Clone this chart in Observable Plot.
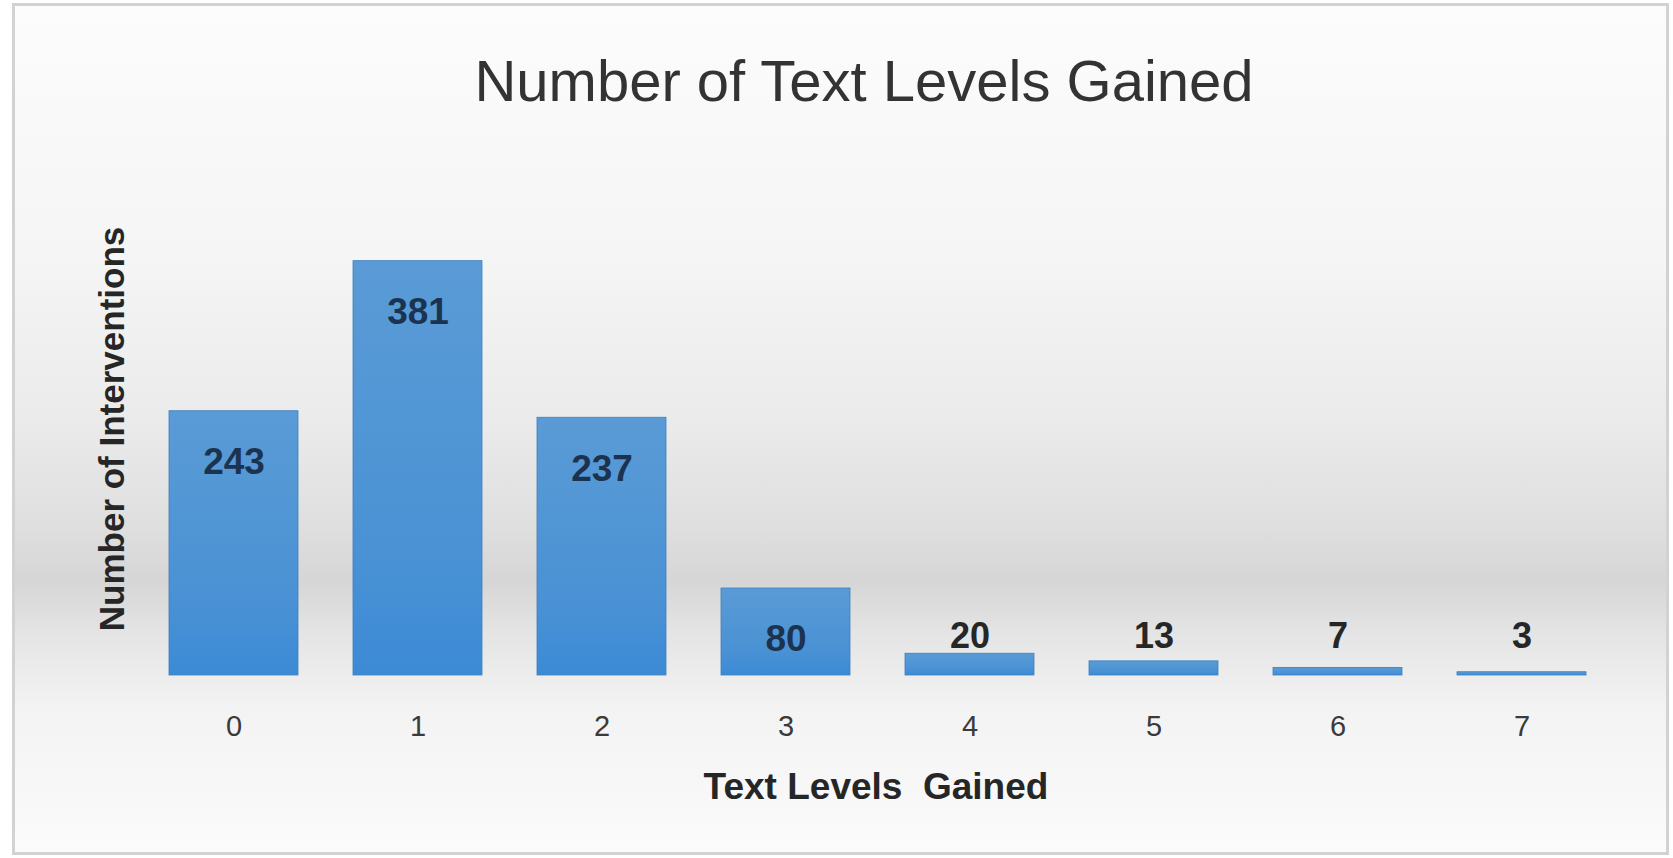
<!DOCTYPE html>
<html>
<head>
<meta charset="utf-8">
<script src="https://cdn.jsdelivr.net/npm/d3@7"></script>
<script src="https://cdn.jsdelivr.net/npm/@observablehq/plot@0.6"></script>
<style>
  html, body { margin: 0; padding: 0; background: #ffffff; }
  body { width: 1673px; height: 858px; position: relative; overflow: hidden; font-family: "Liberation Sans", Arial, sans-serif; }
  #frame {
    position: absolute; left: 12px; top: 3px; width: 1651px; height: 846px;
    border: 3px solid #d2d2d2;
    background: linear-gradient(to bottom, #fcfcfc 0%, #f5f5f5 30%, #eaeaea 50%, #dedede 62%, #d6d6d6 68%, #e4e4e4 74%, #f3f3f3 83%, #fbfbfb 100%);
  }
  #title {
    position: absolute; left: 864px; top: 81px; transform: translate(-50%, -50%);
    white-space: nowrap; font-size: 58px; color: #333333; line-height: 70px;
  }
  #ylabel {
    position: absolute; left: 112px; top: 429px; transform: translate(-50%, -50%) rotate(-90deg);
    white-space: nowrap; font-weight: bold; font-size: 35px; color: #262626;
  }
  #xlabel {
    position: absolute; left: 876px; top: 787px; transform: translate(-50%, -50%);
    white-space: pre; font-weight: bold; font-size: 37px; color: #262626;
  }
  #chart { position: absolute; left: 0; top: 0; }
</style>
</head>
<body>
<div id="frame"></div>
<div id="chart"></div>
<div id="title">Number of Text Levels Gained</div>
<div id="ylabel">Number of Interventions</div>
<div id="xlabel">Text Levels  Gained</div>
<script>
const levels = ["0", "1", "2", "3", "4", "5", "6", "7"];
const counts = [243, 381, 237, 80, 20, 13, 7, 3];

const data = levels.map((level, i) => ({level, count: counts[i]}));

const plot = Plot.plot({
  width: 1673,
  height: 858,
  marginLeft: 112,
  marginRight: 31,
  marginTop: 240,
  marginBottom: 183,
  style: {background: "transparent", overflow: "visible"},
  x: {domain: levels, padding: 0.3, label: null, tickSize: 0, tickPadding: 40},
  y: {domain: [0, 400], axis: null},
  marks: [
    Plot.barY(data, {x: "level", y: "count", fill: "url(#barGrad)", stroke: "#3d7fbf", strokeWidth: 0.8}),
    Plot.text(data.filter(d => d.count >= 50), {
      x: "level", y: "count", text: d => String(d.count), dy: 51,
      fontSize: 37, fontWeight: "bold", fill: "#1c3350", lineAnchor: "middle"
    }),
    Plot.text(data.filter(d => d.count < 50), {
      x: "level", y: 0, text: d => String(d.count), dy: -39,
      fontSize: 36, fontWeight: "bold", fill: "#262626", lineAnchor: "middle"
    }),
    Plot.axisX({tickSize: 0, tickPadding: 40, fontSize: 29, fill: "#3a3a3a", label: null})
  ]
});

const ns = "http://www.w3.org/2000/svg";
const defs = document.createElementNS(ns, "defs");
const grad = document.createElementNS(ns, "linearGradient");
grad.setAttribute("id", "barGrad");
grad.setAttribute("x1", "0"); grad.setAttribute("y1", "0");
grad.setAttribute("x2", "0"); grad.setAttribute("y2", "1");
[["0%", "#5a9bd6"], ["70%", "#4a92d4"], ["100%", "#3c8ad6"]].forEach(([o, c]) => {
  const s = document.createElementNS(ns, "stop");
  s.setAttribute("offset", o); s.setAttribute("stop-color", c);
  grad.appendChild(s);
});
defs.appendChild(grad);
plot.insertBefore(defs, plot.firstChild);
plot.style.fontFamily = '"Liberation Sans", Arial, sans-serif';

document.getElementById("chart").appendChild(plot);
</script>
</body>
</html>
